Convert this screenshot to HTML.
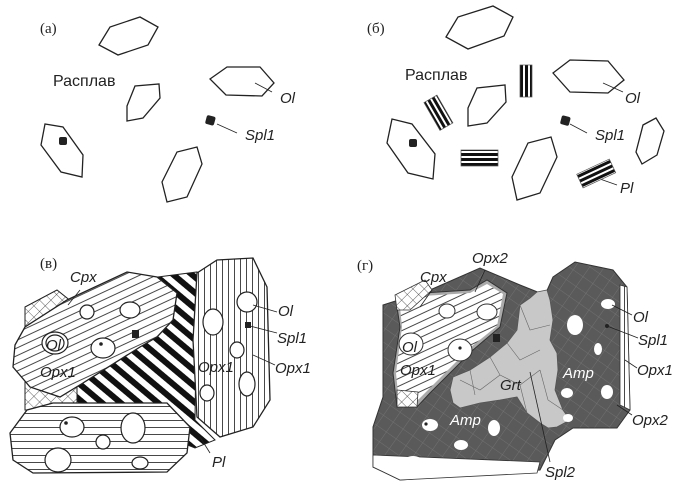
<!DOCTYPE html>
<html><head><meta charset="utf-8"><style>
html,body{margin:0;padding:0;background:#fff}
svg{display:block}
text{font-family:"Liberation Sans",sans-serif;fill:#222}
.it{font-style:italic;font-size:15px}
.lb{font-family:"Liberation Serif",serif;font-size:15px}
</style></head><body>
<svg width="681" height="500" viewBox="0 0 681 500" xmlns="http://www.w3.org/2000/svg">
<defs>
<pattern id="hx" width="8" height="8" patternUnits="userSpaceOnUse" patternTransform="rotate(45)">
<rect width="8" height="8" fill="#fff"/><path d="M0 0H8M0 0V8" stroke="#333" stroke-width="0.8"/></pattern>
<pattern id="hl" width="10" height="7" patternUnits="userSpaceOnUse" patternTransform="rotate(-25)">
<rect width="10" height="7" fill="#fff"/><path d="M0 0.5H10" stroke="#333" stroke-width="0.9"/></pattern>
<pattern id="hl2" width="10" height="7" patternUnits="userSpaceOnUse">
<rect width="10" height="7" fill="#fff"/><path d="M0 0.5H10" stroke="#333" stroke-width="0.9"/></pattern>
<pattern id="vl" width="6" height="10" patternUnits="userSpaceOnUse">
<rect width="6" height="10" fill="#fff"/><path d="M0.5 0V10" stroke="#333" stroke-width="0.9"/></pattern>
<pattern id="pl" width="12" height="12" patternUnits="userSpaceOnUse" patternTransform="rotate(40)">
<rect width="12" height="12" fill="#fff"/><rect width="12" height="6" fill="#111"/></pattern>
<pattern id="dk" width="12" height="12" patternUnits="userSpaceOnUse" patternTransform="rotate(35)">
<rect width="12" height="12" fill="#5a5a5a"/><path d="M0 0H12M0 0V12" stroke="#777" stroke-width="0.8"/></pattern>
<pattern id="bars" width="5" height="10" patternUnits="userSpaceOnUse">
<rect width="5" height="10" fill="#fff"/><rect width="3" height="10" fill="#111"/></pattern>
</defs>

<!-- Panel a -->
<g fill="none" stroke="#222" stroke-width="1.3">
<polygon points="99,45 110,27 140,17 158,27 148,45 118,55"/>
<polygon points="127,106 135,86 159,84 160,98 143,118 127,121"/>
<polygon points="210,79 227,67 260,67 274,83 262,96 226,95"/>
<polygon points="41,145 45,124 63,127 83,155 82,177 61,172"/>
<polygon points="162,182 177,152 197,147 202,164 187,197 167,202"/>
<line x1="255" y1="83" x2="272" y2="92" stroke-width="0.8"/>
<line x1="217" y1="124" x2="237" y2="133" stroke-width="0.8"/>
</g>
<rect x="206" y="116" width="9" height="9" rx="2" fill="#222" transform="rotate(15 211 120)"/>
<rect x="59" y="137" width="8" height="8" rx="2" fill="#222"/>
<text class="lb" x="40" y="33">(а)</text>
<text x="53" y="86" font-size="16">Расплав</text>
<text class="it" x="280" y="103">Ol</text>
<text class="it" x="245" y="140">Spl1</text>

<!-- Panel б -->
<g fill="none" stroke="#222" stroke-width="1.3">
<polygon points="446,37 458,17 493,6 513,17 504,36 468,49"/>
<polygon points="553,73 570,60 608,61 624,80 608,93 570,92"/>
<polygon points="468,108 477,88 505,85 506,102 487,123 468,126"/>
<polygon points="387,143 392,119 412,124 435,154 433,179 408,173"/>
<polygon points="512,177 528,143 551,137 557,157 540,193 517,200"/>
<polygon points="636,152 643,125 656,118 664,131 657,155 642,164"/>
<line x1="603" y1="83" x2="623" y2="92" stroke-width="0.8"/>
<line x1="570" y1="124" x2="587" y2="133" stroke-width="0.8"/>
<line x1="600" y1="179" x2="617" y2="185" stroke-width="0.8"/>
</g>
<rect x="520" y="65" width="12" height="32" fill="url(#bars)" stroke="#555" stroke-width="0.7"/>
<g transform="rotate(-30 438 113)"><rect x="431" y="97" width="15" height="32" fill="url(#bars)" stroke="#555" stroke-width="0.7"/></g>
<g transform="rotate(90 480 158)"><rect x="472" y="140" width="16" height="37" fill="url(#bars)" stroke="#555" stroke-width="0.7"/></g>
<g transform="rotate(65 596 173)"><rect x="589" y="155" width="15" height="36" fill="url(#bars)" stroke="#555" stroke-width="0.7"/></g>
<rect x="561" y="116" width="9" height="9" rx="2" fill="#222" transform="rotate(15 565 120)"/>
<rect x="409" y="139" width="8" height="8" rx="2" fill="#222"/>
<text class="lb" x="367" y="33">(б)</text>
<text x="405" y="80" font-size="16">Расплав</text>
<text class="it" x="625" y="103">Ol</text>
<text class="it" x="595" y="140">Spl1</text>
<text class="it" x="620" y="193">Pl</text>

<!-- Panel в -->
<polygon points="25,307 57,290 72,302 80,320 80,410 25,410" fill="url(#hx)" stroke="#222" stroke-width="1"/>
<polygon points="150,278 197,272 195,420 215,440 195,448 175,440 160,405 77,405 77,385 135,350 165,325" fill="url(#pl)" stroke="#222" stroke-width="1"/>
<polygon points="15,345 25,327 67,300 127,272 157,277 177,293 173,320 157,337 140,347 83,383 60,397 30,387 13,367" fill="url(#hl)" stroke="#222" stroke-width="1.3"/>
<polygon points="197,273 217,260 253,258 267,287 270,400 253,427 220,437 197,417 193,340" fill="url(#vl)" stroke="#222" stroke-width="1.3"/>
<polygon points="10,433 27,410 53,403 167,403 190,427 187,453 167,472 33,473 13,460" fill="url(#hl2)" stroke="#222" stroke-width="1.3"/>
<g fill="#fff" stroke="#222" stroke-width="1.2">
<ellipse cx="87" cy="312" rx="7" ry="7"/><ellipse cx="130" cy="310" rx="10" ry="8"/>
<ellipse cx="55" cy="343" rx="13" ry="11"/><ellipse cx="55" cy="343" rx="9" ry="8"/>
<ellipse cx="103" cy="348" rx="12" ry="10"/>
<ellipse cx="247" cy="302" rx="10" ry="10"/><ellipse cx="213" cy="322" rx="10" ry="13"/>
<ellipse cx="237" cy="350" rx="7" ry="8"/><ellipse cx="247" cy="384" rx="8" ry="12"/>
<ellipse cx="207" cy="393" rx="7" ry="8"/>
<ellipse cx="72" cy="427" rx="12" ry="10"/><ellipse cx="133" cy="428" rx="12" ry="15"/>
<ellipse cx="103" cy="442" rx="7" ry="7"/><ellipse cx="58" cy="460" rx="13" ry="12"/>
<ellipse cx="140" cy="463" rx="8" ry="6"/>
</g>
<circle cx="101" cy="344" r="1.8" fill="#222"/><circle cx="66" cy="423" r="1.8" fill="#222"/>
<rect x="132" y="330" width="7" height="8" fill="#222"/><rect x="245" y="322" width="6" height="6" fill="#222"/>
<g stroke="#222" stroke-width="0.8"><line x1="68" y1="305" x2="80" y2="290"/><line x1="253" y1="305" x2="277" y2="312"/><line x1="250" y1="326" x2="277" y2="333"/><line x1="253" y1="355" x2="275" y2="365"/><line x1="200" y1="437" x2="210" y2="453"/></g>
<text class="lb" x="40" y="268">(в)</text>
<text class="it" x="70" y="282">Cpx</text>
<text class="it" x="46" y="350" font-size="19">Ol</text>
<text class="it" x="40" y="377">Opx1</text>
<text class="it" x="198" y="372">Opx1</text>
<text class="it" x="278" y="316">Ol</text>
<text class="it" x="277" y="343">Spl1</text>
<text class="it" x="275" y="373">Opx1</text>
<text class="it" x="212" y="467">Pl</text>

<!-- Panel г -->
<polygon points="383,305 430,290 480,268 520,285 545,295 553,277 575,262 613,270 627,287 630,410 617,428 573,428 555,440 540,470 400,480 373,467 373,427 383,397" fill="url(#dk)" stroke="#333" stroke-width="1"/>
<polygon points="373,455 540,462 537,473 400,480 373,467" fill="#fff" stroke="#333" stroke-width="0.8"/>
<polygon points="620,285 627,287 630,410 620,405" fill="url(#vl)" stroke="#333" stroke-width="0.8"/>
<polygon points="450,390 453,377 470,370 490,357 507,343 517,330 520,305 530,298 537,292 547,290 550,300 553,320 550,340 557,353 558,370 555,390 563,410 570,420 557,427 548,428 540,423 527,413 517,397 500,400 480,403 460,408 453,403" fill="#c8c8c8" stroke="#555" stroke-width="0.8"/>
<g stroke="#666" stroke-width="0.6" fill="none"><path d="M460 380 L480 390 L500 375 L520 385 L540 370 M470 370 L475 395 M490 357 L500 375 M507 343 L520 360 L540 350 M520 305 L530 330 L550 325 M520 385 L527 413 M540 370 L548 400 L563 410"/></g>
<polygon points="397,307 423,293 470,290 487,280 507,293 500,327 473,350 430,393 417,407 397,407 393,373 400,327" fill="#aaa" stroke="#333" stroke-width="1"/>
<polygon points="400,307 423,296 470,293 487,284 503,294 497,326 471,347 428,390 416,402 399,403 396,373 402,327" fill="url(#hl)"/>
<polygon points="395,295 425,280 432,290 410,310 397,310" fill="url(#hx)" stroke="#333" stroke-width="0.8"/>
<polygon points="397,390 418,392 417,407 397,407" fill="url(#hx)" stroke="#333" stroke-width="0.8"/>
<g fill="#fff" stroke="#333" stroke-width="1">
<ellipse cx="447" cy="311" rx="8" ry="7"/><ellipse cx="487" cy="312" rx="10" ry="8"/>
<ellipse cx="411" cy="344" rx="12" ry="11"/><ellipse cx="460" cy="350" rx="12" ry="11"/>
</g>
<g fill="#fff">
<ellipse cx="608" cy="304" rx="7" ry="5"/><ellipse cx="575" cy="325" rx="8" ry="10"/><ellipse cx="598" cy="349" rx="4" ry="6"/>
<ellipse cx="607" cy="392" rx="6" ry="7"/><ellipse cx="567" cy="393" rx="6" ry="5"/><ellipse cx="568" cy="418" rx="5" ry="4"/>
<ellipse cx="430" cy="425" rx="8" ry="6"/><ellipse cx="494" cy="428" rx="6" ry="8"/><ellipse cx="461" cy="445" rx="7" ry="5"/>
<ellipse cx="413" cy="463" rx="10" ry="7"/><ellipse cx="496" cy="466" rx="6" ry="4"/>
</g>
<rect x="493" y="334" width="7" height="8" fill="#222"/>
<circle cx="460" cy="348" r="1.6" fill="#222"/><circle cx="426" cy="424" r="1.6" fill="#222"/><circle cx="607" cy="326" r="2" fill="#222"/>
<g stroke="#222" stroke-width="0.8"><line x1="420" y1="307" x2="432" y2="290"/><line x1="475" y1="292" x2="485" y2="270"/><line x1="612" y1="305" x2="632" y2="315"/><line x1="607" y1="326" x2="638" y2="338"/><line x1="625" y1="360" x2="637" y2="368"/><line x1="617" y1="405" x2="632" y2="415"/><line x1="530" y1="372" x2="550" y2="462"/></g>
<text class="lb" x="357" y="270">(г)</text>
<text class="it" x="420" y="282">Cpx</text>
<text class="it" x="472" y="263">Opx2</text>
<text class="it" x="402" y="352" font-size="19">Ol</text>
<text class="it" x="400" y="375">Opx1</text>
<text class="it" x="500" y="390" font-size="16">Grt</text>
<text class="it" x="563" y="378" style="fill:#fff" font-size="16">Amp</text>
<text class="it" x="450" y="425" style="fill:#fff" font-size="16">Amp</text>
<text class="it" x="633" y="322">Ol</text>
<text class="it" x="638" y="345">Spl1</text>
<text class="it" x="637" y="375">Opx1</text>
<text class="it" x="632" y="425">Opx2</text>
<text class="it" x="545" y="477">Spl2</text>
</svg>
</body></html>
